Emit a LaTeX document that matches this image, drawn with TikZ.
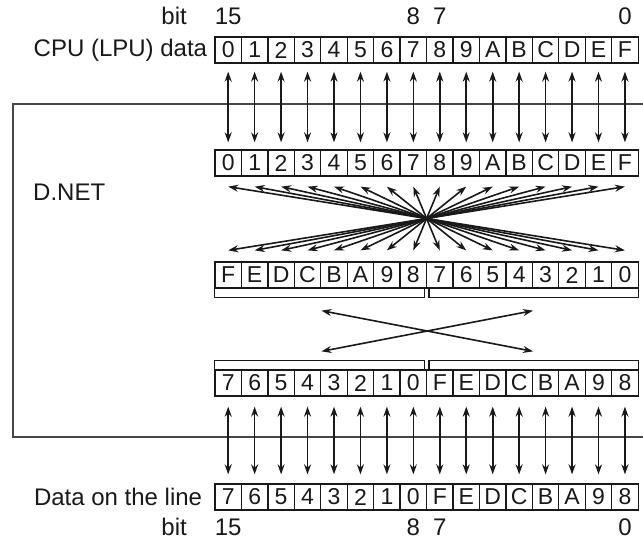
\documentclass[tikz,border=0pt]{standalone}
\usepackage{fontspec}
\setmainfont{Liberation Sans}
\usepackage{tikz}
\usetikzlibrary{calc,arrows.meta,positioning}
\definecolor{dnInk}{RGB}{25,25,25}
\definecolor{dnFrame}{RGB}{70,70,70}

\begin{document}
\begin{tikzpicture}[x=1pt,y=-1pt,
  cell/.style={draw=dnInk, line width=1.3pt, minimum width=26.45pt, minimum height=26pt, inner sep=0pt, font=\fontsize{23}{25}\selectfont, text=dnInk},
  lbl/.style={inner sep=0pt, font=\fontsize{24}{26}\selectfont, text=dnInk},
  dblarrow/.style={dnInk, line width=1.6pt, {Stealth[length=10pt,width=7pt]}-{Stealth[length=10pt,width=7pt]}},
  bracket/.style={draw=dnInk, line width=1.3pt}]
\useasboundingbox (0,0) rectangle (643,542);

% D.NET frame, cut by the right edge
\draw[dnFrame, line width=1.1pt] (643,104) -- (13,104) -- (13,437) -- (643,437);
\node[lbl, anchor=west] (dnet) at (33,192) {D.NET};

% rows of cells
\foreach \t [count=\i from 0] in {0,1,2,3,4,5,6,7,8,9,A,B,C,D,E,F}
{
    \node[cell] (cpu\i) at (228.2+26.45*\i,50) {\t};
    \node[cell] (inA\i) at (228.2+26.45*\i,163) {\t};
}
\foreach \t [count=\i from 0] in {F,E,D,C,B,A,9,8,7,6,5,4,3,2,1,0}
{
    \node[cell] (rev\i) at (228.2+26.45*\i,275) {\t};
}
\foreach \t [count=\i from 0] in {7,6,5,4,3,2,1,0,F,E,D,C,B,A,9,8}
{
    \node[cell] (swp\i) at (228.2+26.45*\i,383) {\t};
    \node[cell] (wire\i) at (228.2+26.45*\i,497) {\t};
}

% labels
\node[lbl, left=7pt of cpu0] (cpuLbl) {CPU (LPU) data};
\node[lbl, left=12pt of wire0] (lineLbl) {Data on the line};
\coordinate (bitHi) at (0,16);
\coordinate (bitLo) at (0,527);
\node[lbl, anchor=east] (bitT) at (187,16) {bit};
\node[lbl, anchor=east] (bitB) at (187,527) {bit};
\node[lbl] (hiT15) at (cpu0 |- bitHi) {15};
\node[lbl] (hiT8) at (cpu7 |- bitHi) {8};
\node[lbl] (hiT7) at (cpu8 |- bitHi) {7};
\node[lbl] (hiT0) at (cpu15 |- bitHi) {0};
\node[lbl] (loT15) at (wire0 |- bitLo) {15};
\node[lbl] (loT8) at (wire7 |- bitLo) {8};
\node[lbl] (loT7) at (wire8 |- bitLo) {7};
\node[lbl] (loT0) at (wire15 |- bitLo) {0};

% straight links
\foreach \i in {0,...,15}
{
    \draw[dblarrow, shorten <=8pt, shorten >=7pt] (cpu\i) -- (inA\i);
    \draw[dblarrow, shorten <=10pt, shorten >=9pt] (swp\i) -- (wire\i);
}

% bit reversal fan
\foreach \i [evaluate=\i as \j using int(15-\i)] in {0,...,15}
{
    \draw[dblarrow] ($(inA\i.south)+(0,10)$) -- ($(rev\j.north)+(0,-11)$);
}

% byte brackets and swap
\draw[bracket] (rev0.south west) -- ++(0,9) -| ($(rev7.south east)+(-3,0)$);
\draw[bracket] ($(rev8.south west)+(3,0)$) -- ++(0,9) -| (rev15.south east);
\draw[bracket] (swp0.north west) -- ++(0,-9) -| ($(swp7.north east)+(-3,0)$);
\draw[bracket] ($(swp8.north west)+(3,0)$) -- ++(0,-9) -| (swp15.north east);
\coordinate (swUL) at ($(rev3.south east)+(0,22)$);
\coordinate (swUR) at ($(rev11.south east)+(0,22)$);
\coordinate (swDL) at ($(swp3.north east)+(0,-18)$);
\coordinate (swDR) at ($(swp11.north east)+(0,-18)$);
\draw[dblarrow] (swUL) -- (swDR);
\draw[dblarrow] (swDL) -- (swUR);
\end{tikzpicture}
\end{document}
